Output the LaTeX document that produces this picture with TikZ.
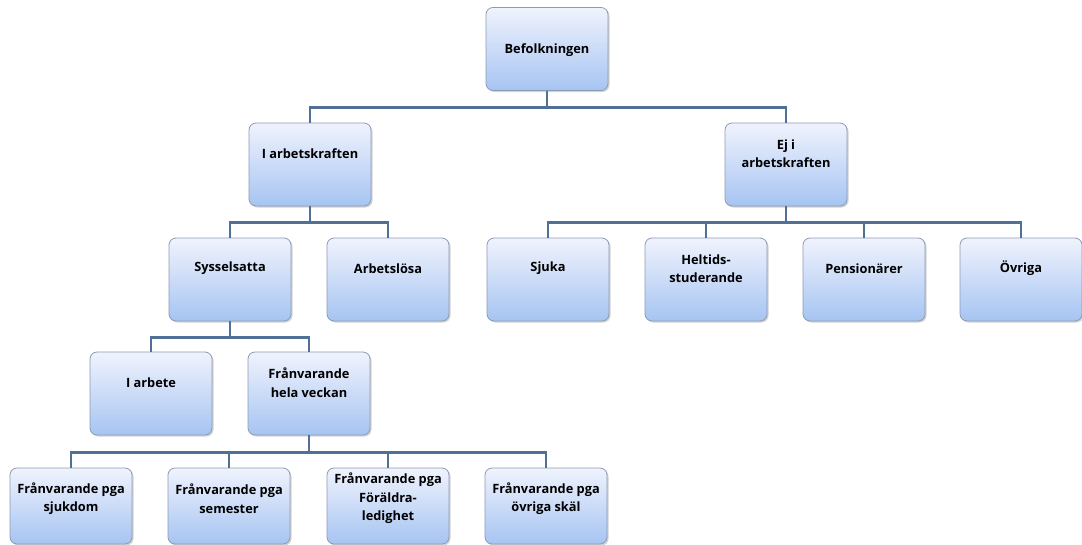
\documentclass[tikz,border=0pt]{standalone}
\usepackage{fontspec}
\setmainfont{Open Sans}
\usetikzlibrary{positioning, shadows}
\definecolor{boxtop}{RGB}{240,243,253}
\definecolor{boxbottom}{RGB}{166,196,242}
\definecolor{boxline}{RGB}{140,155,180}
\definecolor{linkcolor}{RGB}{80,112,150}

\begin{document}
\begin{tikzpicture}[x=1pt, y=1pt,
    boxshape/.style={rectangle, rounded corners=7pt, minimum width=122pt, minimum height=83pt, draw=boxline, line width=0.8pt,
      top color=boxtop, bottom color=boxbottom, drop shadow={opacity=0.35, shadow xshift=1.5pt, shadow yshift=-1.5pt}},
    box/.style={boxshape, label={[boxtext]north:#1}},
    midbox/.style={boxshape, label={[boxtext, yshift=-12pt]north:#1}},
    lowbox/.style={box=#1, minimum height=76pt},
    boxtext/.style={anchor=center, yshift=-31pt, align=center, font=\bfseries\fontsize{12.8}{18.5}\selectfont, text=black},
    link/.style={draw=linkcolor, line width=2.6pt}]
    \useasboundingbox (0,0) rectangle (1082,-544);

    % level 1 and 2
    \node[midbox=Befolkningen] (befolk) at (547,-49) {};
    \node[box=I arbetskraften] (iark) at (310,-164.5) {};
    \node[box={Ej i\\arbetskraften}] (ejark) at (786,-164.5) {};

    % level 3
    \node[box=Sysselsatta] (syss) at (230,-279.5) {};
    \node[box=Arbetslösa] (arbl) at (388,-279.5) {};
    \node[box=Sjuka] (sjuka) at (548,-279.5) {};
    \node[box={Heltids-\\studerande}] (helt) at (706,-279.5) {};
    \node[box=Pensionärer] (pens) at (864,-279.5) {};
    \node[box=Övriga] (ovr) at (1021,-279.5) {};

    % level 4
    \node[box=I arbete] (iarb) at (151,-393.5) {};
    \node[box={Frånvarande\\hela veckan}] (franv) at (309,-393.5) {};

    % level 5
    \node[lowbox={Frånvarande pga\\sjukdom}] (sjukdom) at (71,-506) {};
    \node[lowbox={Frånvarande pga\\semester}] (semester) at (229,-506) {};
    \node[lowbox={Frånvarande pga\\Föräldra-\\ledighet}] (foraldra) at (388,-506) {};
    \node[lowbox={Frånvarande pga\\övriga skäl}] (ovrskal) at (546,-506) {};

    \foreach \child in {iark, ejark}
      \draw[link] (befolk.south) -- ++(0,-16.5) -| (\child.north);
    \foreach \child in {syss, arbl}
      \draw[link] (iark.south) -- ++(0,-16) -| (\child.north);
    \foreach \child in {sjuka, helt, pens, ovr}
      \draw[link] (ejark.south) -- ++(0,-16) -| (\child.north);
    \foreach \child in {iarb, franv}
      \draw[link] (syss.south) -- ++(0,-16) -| (\child.north);
    \foreach \child in {sjukdom, semester, foraldra, ovrskal}
      \draw[link] (franv.south) -- ++(0,-17) -| (\child.north);
\end{tikzpicture}
\end{document}
